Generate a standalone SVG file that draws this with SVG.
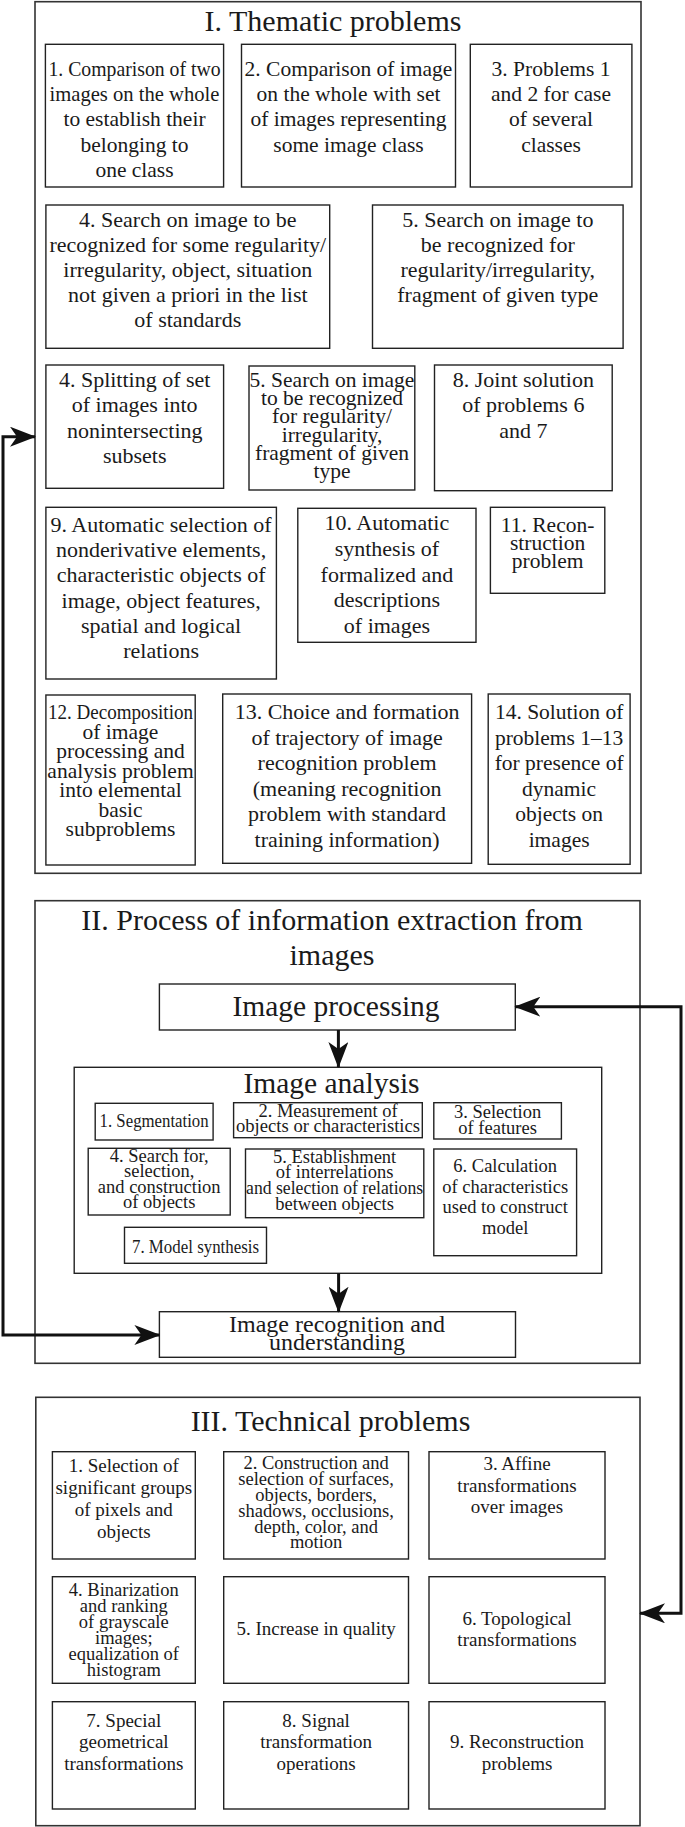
<svg xmlns="http://www.w3.org/2000/svg" width="685" height="1827" viewBox="0 0 685 1827">
<style>
text{font-family:"Liberation Serif","Times New Roman",serif;fill:#1a1a1a;text-anchor:middle}
.frame{fill:none;stroke:#333;stroke-width:1.6}
.box{fill:#fff;stroke:#222;stroke-width:1.4}
.title{font-size:30px}
.t{font-size:21.5px}
.t22{font-size:22px}
.s{font-size:18.5px}
.tp{font-size:19px}
.conn{fill:none;stroke:#111;stroke-width:3}
</style>
<defs>
<marker id="ah" viewBox="0 0 26 20" refX="25" refY="10" markerWidth="26" markerHeight="20" markerUnits="userSpaceOnUse" orient="auto-start-reverse">
<path d="M0,0 L26,10 L0,20 L7,10 Z" fill="#111"/>
</marker>
</defs>
<rect width="685" height="1827" fill="#fff"/>

<g id="frame-I">
<rect class="frame" x="35" y="1.7" width="606" height="871.6"/>
<text class="title" x="333" y="31">I. Thematic problems</text>
</g>
<g id="t1">
<rect class="box" x="45.4" y="44.3" width="178.2" height="142.7"/>
<text class="t" x="134.5" y="76" textLength="172" lengthAdjust="spacingAndGlyphs">1. Comparison of two</text>
<text class="t" x="134.5" y="101.2" textLength="170" lengthAdjust="spacingAndGlyphs">images on the whole</text>
<text class="t" x="134.5" y="126.4">to establish their</text>
<text class="t" x="134.5" y="151.6">belonging to</text>
<text class="t" x="134.5" y="176.8">one class</text>
</g>
<g id="t2">
<rect class="box" x="241.5" y="44.3" width="214" height="142.7"/>
<text class="t" x="348.5" y="76">2. Comparison of image</text>
<text class="t" x="348.5" y="101.2">on the whole with set</text>
<text class="t" x="348.5" y="126.4">of images representing</text>
<text class="t" x="348.5" y="151.6">some image class</text>
</g>
<g id="t3">
<rect class="box" x="470.3" y="44.3" width="161.6" height="142.7"/>
<text class="t" x="551" y="76">3. Problems 1</text>
<text class="t" x="551" y="101.2">and 2 for case</text>
<text class="t" x="551" y="126.4">of several</text>
<text class="t" x="551" y="151.6">classes</text>
</g>
<g id="t4a">
<rect class="box" x="45.9" y="205" width="283.8" height="143.3"/>
<text class="t22" x="187.8" y="226.7">4. Search on image to be</text>
<text class="t22" x="187.8" y="251.7">recognized for some regularity/</text>
<text class="t22" x="187.8" y="276.7">irregularity, object, situation</text>
<text class="t22" x="187.8" y="301.7">not given a priori in the list</text>
<text class="t22" x="187.8" y="326.7">of standards</text>
</g>
<g id="t5a">
<rect class="box" x="372.5" y="205" width="250.6" height="143.3"/>
<text class="t22" x="497.8" y="226.7">5. Search on image to</text>
<text class="t22" x="497.8" y="251.7">be recognized for</text>
<text class="t22" x="497.8" y="276.7">regularity/irregularity,</text>
<text class="t22" x="497.8" y="301.7">fragment of given type</text>
</g>
<g id="t4b">
<rect class="box" x="45.9" y="365" width="177.7" height="123.3"/>
<text class="t22" x="134.7" y="386.7">4. Splitting of set</text>
<text class="t22" x="134.7" y="412.2">of images into</text>
<text class="t22" x="134.7" y="437.7">nonintersecting</text>
<text class="t22" x="134.7" y="463.2">subsets</text>
</g>
<g id="t5b">
<rect class="box" x="249" y="366" width="165.8" height="124"/>
<text class="t" x="332" y="386.7">5. Search on image</text>
<text class="t" x="332" y="405">to be recognized</text>
<text class="t" x="332" y="423.3">for regularity/</text>
<text class="t" x="332" y="441.6">irregularity,</text>
<text class="t" x="332" y="459.9">fragment of given</text>
<text class="t" x="332" y="478.2">type</text>
</g>
<g id="t8">
<rect class="box" x="434.5" y="365" width="177.7" height="125.7"/>
<text class="t22" x="523.3" y="386.7">8. Joint solution</text>
<text class="t22" x="523.3" y="412.2">of problems 6</text>
<text class="t22" x="523.3" y="437.7">and 7</text>
</g>
<g id="t9">
<rect class="box" x="45.9" y="507.3" width="230.5" height="171.7"/>
<text class="t22" x="161.1" y="531.7">9. Automatic selection of</text>
<text class="t22" x="161.1" y="557">nonderivative elements,</text>
<text class="t22" x="161.1" y="582.3">characteristic objects of</text>
<text class="t22" x="161.1" y="607.6">image, object features,</text>
<text class="t22" x="161.1" y="632.9">spatial and logical</text>
<text class="t22" x="161.1" y="658.2">relations</text>
</g>
<g id="t10">
<rect class="box" x="297.8" y="508.3" width="178.2" height="134"/>
<text class="t22" x="386.9" y="530">10. Automatic</text>
<text class="t22" x="386.9" y="555.8">synthesis of</text>
<text class="t22" x="386.9" y="581.6">formalized and</text>
<text class="t22" x="386.9" y="607.4">descriptions</text>
<text class="t22" x="386.9" y="633.2">of images</text>
</g>
<g id="t11">
<rect class="box" x="490.4" y="507.3" width="114.4" height="86"/>
<text class="t" x="547.6" y="531.7">11. Recon-</text>
<text class="t" x="547.6" y="550">struction</text>
<text class="t" x="547.6" y="568.3">problem</text>
</g>
<g id="t12">
<rect class="box" x="45.9" y="695" width="149.3" height="170"/>
<text class="t" x="120.5" y="719" textLength="145" lengthAdjust="spacingAndGlyphs">12. Decomposition</text>
<text class="t" x="120.5" y="738.5">of image</text>
<text class="t" x="120.5" y="758">processing and</text>
<text class="t" x="120.5" y="777.5">analysis problem</text>
<text class="t" x="120.5" y="797">into elemental</text>
<text class="t" x="120.5" y="816.5">basic</text>
<text class="t" x="120.5" y="836">subproblems</text>
</g>
<g id="t13">
<rect class="box" x="222.7" y="694" width="248.9" height="169.3"/>
<text class="t22" x="347.1" y="719.3">13. Choice and formation</text>
<text class="t22" x="347.1" y="744.8">of trajectory of image</text>
<text class="t22" x="347.1" y="770.3">recognition problem</text>
<text class="t22" x="347.1" y="795.8">(meaning recognition</text>
<text class="t22" x="347.1" y="821.3">problem with standard</text>
<text class="t22" x="347.1" y="846.8">training information)</text>
</g>
<g id="t14">
<rect class="box" x="488.2" y="694" width="141.9" height="170.3"/>
<text class="t" x="559.1" y="719.3">14. Solution of</text>
<text class="t" x="559.1" y="744.8">problems 1–13</text>
<text class="t" x="559.1" y="770.3">for presence of</text>
<text class="t" x="559.1" y="795.8">dynamic</text>
<text class="t" x="559.1" y="821.3">objects on</text>
<text class="t" x="559.1" y="846.8">images</text>
</g>

<g id="frame-II">
<rect class="frame" x="35" y="900.7" width="605" height="462.6"/>
<text class="title" x="332" y="930">II. Process of information extraction from</text>
<text class="title" x="332" y="965">images</text>
</g>
<g id="image-processing">
<rect class="box" x="159.4" y="984" width="355.9" height="46"/>
<text style="font-size:29.5px" x="336" y="1015.5">Image processing</text>
</g>
<g id="image-analysis">
<rect class="box" x="74.2" y="1067.3" width="527.5" height="206"/>
<text style="font-size:29.5px" x="331.5" y="1093">Image analysis</text>
</g>
<g id="a1">
<rect class="box" x="95.2" y="1103.3" width="117.9" height="36.7"/>
<text class="s" x="154.1" y="1127" textLength="109" lengthAdjust="spacingAndGlyphs">1. Segmentation</text>
</g>
<g id="a2">
<rect class="box" x="233.6" y="1102.7" width="188.7" height="35"/>
<text class="s" x="328" y="1117">2. Measurement of</text>
<text class="s" x="328" y="1132" textLength="184" lengthAdjust="spacingAndGlyphs">objects or characteristics</text>
</g>
<g id="a3">
<rect class="box" x="433.8" y="1102.7" width="127.6" height="36.3"/>
<text class="s" x="497.6" y="1117.5">3. Selection</text>
<text class="s" x="497.6" y="1133.5">of features</text>
</g>
<g id="a4">
<rect class="box" x="88.2" y="1148.3" width="142" height="66.7"/>
<text class="s" x="159.2" y="1161.7">4. Search for,</text>
<text class="s" x="159.2" y="1177.2">selection,</text>
<text class="s" x="159.2" y="1192.7">and construction</text>
<text class="s" x="159.2" y="1208.2">of objects</text>
</g>
<g id="a5">
<rect class="box" x="245.5" y="1149" width="178.3" height="68.7"/>
<text class="s" x="334.6" y="1162.7">5. Establishment</text>
<text class="s" x="334.6" y="1178.3">of interrelations</text>
<text class="s" x="334.6" y="1193.9" textLength="177" lengthAdjust="spacingAndGlyphs">and selection of relations</text>
<text class="s" x="334.6" y="1209.5">between objects</text>
</g>
<g id="a6">
<rect class="box" x="433.8" y="1149" width="142.8" height="106.7"/>
<text class="s" x="505.2" y="1171.5">6. Calculation</text>
<text class="s" x="505.2" y="1193">of characteristics</text>
<text class="s" x="505.2" y="1213">used to construct</text>
<text class="s" x="505.2" y="1234">model</text>
</g>
<g id="a7">
<rect class="box" x="124.5" y="1227.3" width="142" height="36"/>
<text class="s" x="195.5" y="1253" textLength="127" lengthAdjust="spacingAndGlyphs">7. Model synthesis</text>
</g>
<g id="image-recognition">
<rect class="box" x="159.4" y="1311.7" width="356.1" height="45.6"/>
<text style="font-size:24px" x="337" y="1331.5">Image recognition and</text>
<text style="font-size:24px" x="337" y="1350">understanding</text>
</g>

<g id="frame-III">
<rect class="frame" x="35.8" y="1397.3" width="604.2" height="428.4"/>
<text class="title" x="330.5" y="1431">III. Technical problems</text>
</g>
<g id="p1">
<rect class="box" x="52.4" y="1451.7" width="142.9" height="107.3"/>
<text class="tp" x="123.8" y="1471.7">1. Selection of</text>
<text class="tp" x="123.8" y="1493.7">significant groups</text>
<text class="tp" x="123.8" y="1515.7">of pixels and</text>
<text class="tp" x="123.8" y="1537.7">objects</text>
</g>
<g id="p2">
<rect class="box" x="223.7" y="1451.7" width="184.8" height="107.3"/>
<text class="s" x="316.1" y="1469.3">2. Construction and</text>
<text class="s" x="316.1" y="1485.1">selection of surfaces,</text>
<text class="s" x="316.1" y="1500.9">objects, borders,</text>
<text class="s" x="316.1" y="1516.7">shadows, occlusions,</text>
<text class="s" x="316.1" y="1532.5">depth, color, and</text>
<text class="s" x="316.1" y="1548.3">motion</text>
</g>
<g id="p3">
<rect class="box" x="429" y="1451.7" width="176" height="107.3"/>
<text class="tp" x="517" y="1470">3. Affine</text>
<text class="tp" x="517" y="1491.7">transformations</text>
<text class="tp" x="517" y="1513.4">over images</text>
</g>
<g id="p4">
<rect class="box" x="52.4" y="1576.7" width="142.9" height="106.6"/>
<text class="s" x="123.8" y="1596">4. Binarization</text>
<text class="s" x="123.8" y="1612">and ranking</text>
<text class="s" x="123.8" y="1628">of grayscale</text>
<text class="s" x="123.8" y="1644">images;</text>
<text class="s" x="123.8" y="1660">equalization of</text>
<text class="s" x="123.8" y="1676">histogram</text>
</g>
<g id="p5">
<rect class="box" x="223.7" y="1576.7" width="184.8" height="106.6"/>
<text class="tp" x="316.1" y="1635">5. Increase in quality</text>
</g>
<g id="p6">
<rect class="box" x="429" y="1576.7" width="176" height="106.6"/>
<text class="tp" x="517" y="1625">6. Topological</text>
<text class="tp" x="517" y="1646">transformations</text>
</g>
<g id="p7">
<rect class="box" x="52.4" y="1701.7" width="142.9" height="107.3"/>
<text class="tp" x="123.8" y="1726.7">7. Special</text>
<text class="tp" x="123.8" y="1748.3">geometrical</text>
<text class="tp" x="123.8" y="1770">transformations</text>
</g>
<g id="p8">
<rect class="box" x="223.7" y="1701.7" width="184.8" height="107.3"/>
<text class="tp" x="316.1" y="1726.7">8. Signal</text>
<text class="tp" x="316.1" y="1748.3">transformation</text>
<text class="tp" x="316.1" y="1770">operations</text>
</g>
<g id="p9">
<rect class="box" x="429" y="1701.7" width="176" height="107.3"/>
<text class="tp" x="517" y="1748.3">9. Reconstruction</text>
<text class="tp" x="517" y="1770">problems</text>
</g>

<g id="connectors">
<path class="conn" d="M338.4,1030 V1067" marker-end="url(#ah)"/>
<path class="conn" d="M338.6,1273.3 V1311.7" marker-end="url(#ah)"/>
<path class="conn" d="M35,436.7 H3 V1335 H159.4" marker-start="url(#ah)" marker-end="url(#ah)"/>
<path class="conn" d="M515.3,1006.7 H681 V1613.3 H640" marker-start="url(#ah)" marker-end="url(#ah)"/>
</g>
</svg>
